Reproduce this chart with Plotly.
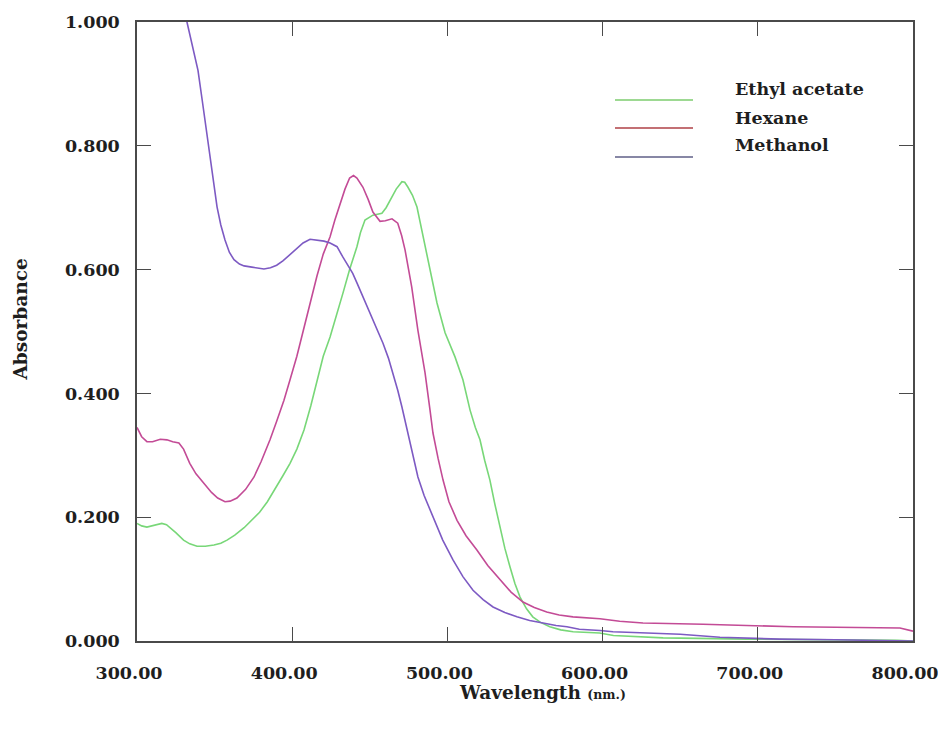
import plotly.graph_objects as go

# ---- data ----
meth_wl = [300, 310, 320, 328, 332.2, 336, 339.3, 342, 345, 348.3, 350, 351.6, 354, 356.7, 359.5, 362.5,
           366, 369, 374, 378, 381.8, 386, 390, 394, 398.6, 403, 407, 411.5, 416, 420.5, 424.4, 428.9,
           432.7, 436, 439, 442, 445.6, 449, 452, 455, 458.5, 462, 465, 468, 470.7, 474, 477.8, 481, 485,
           490.7, 497, 503.6, 510, 516.5, 523, 529.4, 537, 544.8, 553, 561.6, 570, 577, 585, 598.3, 606.7,
           628.6, 650, 675.6, 714, 750, 790, 800]
meth_abs = [1.40, 1.28, 1.16, 1.07, 1.0, 0.96, 0.922, 0.874, 0.82, 0.766, 0.735, 0.701, 0.672, 0.648, 0.628,
            0.616, 0.609, 0.606, 0.604, 0.603, 0.601, 0.603, 0.607, 0.614, 0.624, 0.635, 0.643, 0.649, 0.648,
            0.646, 0.643, 0.637, 0.620, 0.607, 0.594, 0.577, 0.556, 0.538, 0.519, 0.500, 0.481, 0.457, 0.433,
            0.405, 0.378, 0.340, 0.297, 0.265, 0.235, 0.200, 0.163, 0.131, 0.104, 0.082, 0.067, 0.055, 0.046,
            0.039, 0.033, 0.029, 0.025, 0.023, 0.019, 0.017, 0.015, 0.013, 0.011, 0.006, 0.003, 0.002, 0.001,
            0.0]

hex_wl = [300, 303, 306.4, 310, 315, 319.3, 323, 327, 330, 334, 338, 343, 348, 352, 356.7, 360, 364.4, 370,
          375.4, 380, 385.7, 390, 394.7, 398.6, 403, 407, 411.5, 416, 420, 424.4, 427.5, 430.8, 434, 437,
          439.5, 441.7, 445.6, 449, 452, 456.6, 460, 464.3, 468, 470.5, 472.7, 475, 477, 481, 485.6, 488.8,
          490.7, 494, 497.2, 501, 506.2, 512, 519, 526, 533.9, 541, 548.7, 556, 564, 572, 580.9, 598.3, 611,
          626, 664.7, 718.8, 722.7, 791.6, 796, 800]
hex_abs = [0.345, 0.330, 0.322, 0.322, 0.326, 0.325, 0.322, 0.320, 0.310, 0.287, 0.270, 0.255, 0.240, 0.231,
           0.225, 0.226, 0.231, 0.245, 0.265, 0.290, 0.325, 0.355, 0.389, 0.422, 0.460, 0.500, 0.546, 0.590,
           0.625, 0.653, 0.680, 0.707, 0.730, 0.748, 0.752, 0.748, 0.733, 0.713, 0.693, 0.678, 0.679, 0.682,
           0.675, 0.655, 0.632, 0.600, 0.572, 0.502, 0.433, 0.373, 0.336, 0.295, 0.260, 0.225, 0.195, 0.170,
           0.147, 0.122, 0.099, 0.079, 0.063, 0.054, 0.047, 0.042, 0.039, 0.036, 0.032, 0.029, 0.027, 0.024,
           0.023, 0.021, 0.019, 0.016]

eth_wl = [300, 303, 306.4, 310, 316, 319, 321, 325, 330, 334, 338.7, 344, 349.6, 354, 358, 363, 369, 374,
          379, 384, 390, 394, 398.6, 403, 407.6, 412, 416, 420, 424.4, 428.5, 432.7, 437, 441.7, 444, 446.9,
          452, 457.8, 460.5, 463, 467, 470.7, 472.5, 474.6, 477.5, 480.4, 484.3, 488.8, 493.3, 498.5, 504.9,
          510, 514.6, 518, 521, 524, 527.4, 530.5, 533.9, 537, 540.3, 543.5, 546.8, 551, 555, 560, 566, 573,
          581, 598, 607, 639, 693, 757, 790, 800]
eth_abs = [0.190, 0.186, 0.184, 0.186, 0.190, 0.188, 0.184, 0.175, 0.163, 0.157, 0.153, 0.153, 0.155, 0.158,
           0.163, 0.171, 0.183, 0.195, 0.208, 0.225, 0.249, 0.267, 0.287, 0.310, 0.341, 0.380, 0.420, 0.460,
           0.491, 0.525, 0.562, 0.600, 0.637, 0.660, 0.680, 0.688, 0.691, 0.700, 0.712, 0.730, 0.742, 0.741,
           0.733, 0.720, 0.701, 0.653, 0.600, 0.546, 0.498, 0.459, 0.422, 0.373, 0.345, 0.325, 0.292, 0.260,
           0.222, 0.184, 0.150, 0.120, 0.093, 0.071, 0.052, 0.039, 0.030, 0.023, 0.018, 0.015, 0.013, 0.009,
           0.005, 0.003, 0.002, 0.001, 0.0]

x_ticks = [300, 400, 500, 600, 700, 800]
x_labels = ["300.00", "400.00", "500.00", "600.00", "700.00", "800.00"]
y_ticks = [0, 0.2, 0.4, 0.6, 0.8, 1.0]
y_labels = ["0.000", "0.200", "0.400", "0.600", "0.800", "1.000"]

legend_names = ["Ethyl acetate", "Hexane", "Methanol"]
legend_colors = ["rgb(125,205,110)", "rgb(175,65,70)", "rgb(95,95,135)"]

FONT = "DejaVu Serif"
AX = "#4a4a4a"
TXT = "#1e1e1e"

fig = go.Figure()
fig.add_trace(go.Scatter(x=eth_wl, y=eth_abs, mode="lines", name="Ethyl acetate",
                         line=dict(color="rgb(120,215,120)", width=1.6)))
fig.add_trace(go.Scatter(x=hex_wl, y=hex_abs, mode="lines", name="Hexane",
                         line=dict(color="rgb(195,75,150)", width=1.6)))
fig.add_trace(go.Scatter(x=meth_wl, y=meth_abs, mode="lines", name="Methanol",
                         line=dict(color="rgb(125,90,195)", width=1.6)))

axis_common = dict(showgrid=False, zeroline=False, showline=True, linecolor=AX, linewidth=1.5,
                   mirror="allticks", ticks="inside", ticklen=14, tickwidth=1.2, tickcolor=AX,
                   automargin=False, ticklabeloverflow="allow",
                   tickfont=dict(family=FONT, size=17.5, color=TXT, weight="bold"))

fig.update_xaxes(range=[300, 800], tickvals=x_ticks, ticktext=x_labels,
                 ticklabelstandoff=15, ticklabelshift=-8, **axis_common)
fig.update_yaxes(range=[0, 1], tickvals=y_ticks, ticktext=y_labels,
                 ticklabelstandoff=12, **axis_common)

annotations = [
    dict(text="Absorbance", xref="paper", yref="paper", x=0, y=0.5, xshift=-117, yshift=12,
         textangle=-90, showarrow=False, font=dict(family=FONT, size=18.5, color=TXT, weight="bold"),
         xanchor="center", yanchor="middle"),
    dict(text="Wavelength <span style='font-size:12.5px'>(nm.)</span>", xref="paper", yref="paper",
         x=0.5, y=0, xshift=17, yshift=-51, showarrow=False,
         font=dict(family=FONT, size=18.5, color=TXT, weight="bold"), xanchor="center", yanchor="middle"),
]
shapes = []
leg_line_y = [100, 128, 157]
leg_text_y = [89, 118, 145]
H = 734
W = 938
for name, col, ly, ty in zip(legend_names, legend_colors, leg_line_y, leg_text_y):
    shapes.append(dict(type="line", xref="paper", yref="paper",
                       x0=(615 - 137) / 776, x1=(693 - 137) / 776,
                       y0=(641 - ly) / 619, y1=(641 - ly) / 619,
                       line=dict(color=col, width=1.5)))
    annotations.append(dict(text=name, xref="paper", yref="paper",
                            x=(733 - 137) / 776, y=(641 - ty) / 619, xanchor="left", yanchor="middle",
                            showarrow=False, font=dict(family=FONT, size=17.5, color=TXT, weight="bold")))

fig.update_layout(width=W, height=H, margin=dict(l=137, r=25, t=22, b=93),
                  paper_bgcolor="white", plot_bgcolor="white", showlegend=False,
                  annotations=annotations, shapes=shapes)

fig.write_html("out.html")
